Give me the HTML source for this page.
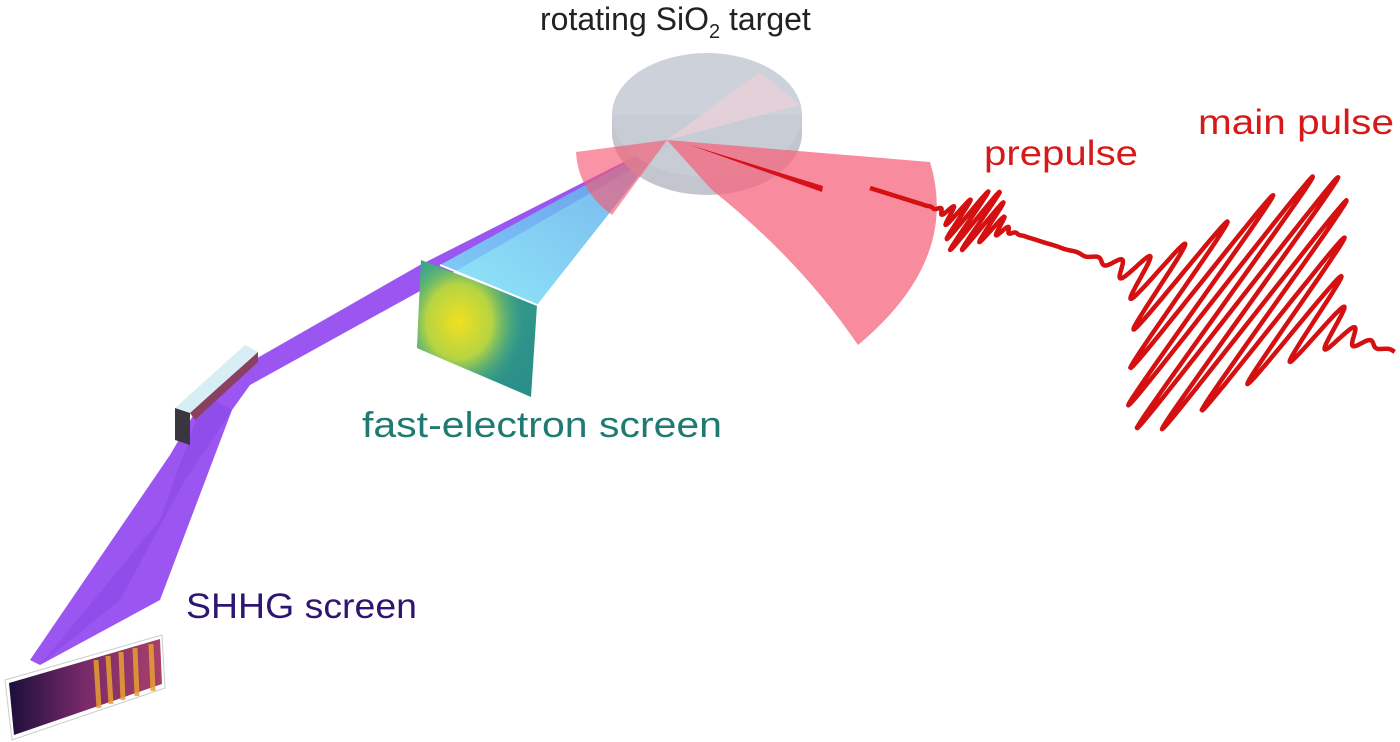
<!DOCTYPE html>
<html><head><meta charset="utf-8"><style>
html,body{margin:0;padding:0;background:#fff;}
svg{display:block;}
text{font-family:"Liberation Sans","DejaVu Sans",sans-serif;}
</style></head><body>
<svg width="1400" height="742" viewBox="0 0 1400 742">
<defs>
<linearGradient id="fesg" x1="0" y1="0" x2="1" y2="1">
<stop offset="0" stop-color="#3aa889"/><stop offset="1" stop-color="#2a8c8a"/></linearGradient>
<radialGradient id="fesr" cx="0.35" cy="0.45" r="0.55">
<stop offset="0" stop-color="#f2e01f"/><stop offset="0.5" stop-color="#b5d443"/><stop offset="1" stop-color="#3aa889" stop-opacity="0"/></radialGradient>
<linearGradient id="shhg" x1="0" y1="0" x2="1" y2="0">
<stop offset="0" stop-color="#1c0f3a"/><stop offset="0.5" stop-color="#7a2a6a"/><stop offset="1" stop-color="#a8406a"/></linearGradient>
<linearGradient id="cyan" x1="1" y1="0" x2="0" y2="1">
<stop offset="0" stop-color="#5aa0e8"/><stop offset="1" stop-color="#7ee4f8"/></linearGradient>
</defs>

<g>
<polygon points="667,140 672,146 440,280 250,385 232,410 160,600 40,665 30,660 170,455 205,395 245,365 420,265" fill="#9b55f0"/>
<polygon points="232,410 205,395 160,520 40,665 120,600 185,480" fill="#8a48e6" opacity="0.6"/>
</g>

<polygon points="667,140 440,265 537,305" fill="url(#cyan)" opacity="0.85"/>

<g>
<path d="M612,115 L612,133 A95,62 0 0 0 802,133 L802,115 Z" fill="#b8bcc6" opacity="0.85"/>
<ellipse cx="707" cy="115" rx="95" ry="62" fill="#c8ccd6" opacity="0.9"/>
<polygon points="667,140 760,72 800,105" fill="#eed0d8" opacity="0.7"/>
</g>

<path d="M667,140 L576,152 Q578,190 612,215 Z" fill="#f45a74" opacity="0.65"/>

<path d="M667,140 L930,162 Q960,260 858,345 Q800,260 712,190 Z" fill="#f5647c" opacity="0.75"/>
<polygon points="690,145 823,186 822,192" fill="#d8101a"/>

<g>
<polygon points="421,260 537,305 531,397 417,348" fill="url(#fesg)"/>
<polygon points="421,260 537,305 531,397 417,348" fill="url(#fesr)"/>
<line x1="440" y1="265" x2="537" y2="305" stroke="#fff" stroke-width="2"/>
</g>

<g>
<polygon points="175,408 245,345 258,352 190,413" fill="#d6eef4"/>
<polygon points="175,408 190,413 190,445 175,440" fill="#3a3640"/>
<polygon points="190,413 258,352 258,362 195,420" fill="#8a4060"/>
</g>

<g>
<polygon points="5,680 162,635 165,688 12,740" fill="#fff" stroke="#ccc"/>
<polygon points="9,683 160,639 162,684 14,735" fill="url(#shhg)"/>
<g stroke="#e8a030" stroke-width="5" opacity="0.85">
<line x1="96" y1="660" x2="99" y2="708"/><line x1="108" y1="656" x2="111" y2="704"/>
<line x1="121" y1="652" x2="123" y2="700"/><line x1="135" y1="648" x2="137" y2="696"/>
<line x1="151" y1="644" x2="153" y2="691"/>
</g>
</g>

<g id="pulses"></g>

<text x="540" y="30" font-size="32" fill="#222">rotating SiO<tspan font-size="20" dy="8">2</tspan><tspan dy="-8"> target</tspan></text>
<text x="984" y="165" font-size="35" fill="#d61a1a" textLength="154" lengthAdjust="spacingAndGlyphs">prepulse</text>
<text x="1198" y="134" font-size="35" fill="#d61a1a" textLength="196" lengthAdjust="spacingAndGlyphs">main pulse</text>
<text x="362" y="437" font-size="36" fill="#1f7a72" textLength="360" lengthAdjust="spacingAndGlyphs">fast-electron screen</text>
<text x="186" y="618" font-size="35" fill="#2e1670" textLength="231" lengthAdjust="spacingAndGlyphs">SHHG screen</text>
</svg>
<script>
const pulseCenters = [110, 385];
const pulseAmps = [38, 160];
const pulseWidths = [22, 72];
const pulseCycles = [10, 22];
(function(){
  const g = document.getElementById('pulses');
  const ox = 870, oy = 188, ang = Math.atan2(352-188, 1395-870);
  const ux = Math.cos(ang), uy = Math.sin(ang);
  const dx = 0.6, dy = -0.8;
  let d = '';
  const L = Math.hypot(1395-870, 352-188);
  for (let t = 0; t <= L; t += 0.6) {
    let y = 0;
    for (let i = 0; i < pulseCenters.length; i++) {
      const e = Math.exp(-Math.pow((t - pulseCenters[i]) / pulseWidths[i], 2));
      y += pulseAmps[i] * e * Math.sin((t - pulseCenters[i]) * 2 * Math.PI / pulseCycles[i]);
    }
    const x = ox + ux * t + dx * y, yy = oy + uy * t + dy * y;
    d += (t === 0 ? 'M' : 'L') + x.toFixed(1) + ',' + yy.toFixed(1);
  }
  const p = document.createElementNS('http://www.w3.org/2000/svg', 'path');
  p.setAttribute('d', d);
  p.setAttribute('fill', 'none');
  p.setAttribute('stroke', '#d41010');
  p.setAttribute('stroke-width', '4.5');
  p.setAttribute('stroke-linejoin', 'round');
  
  
  g.appendChild(p);
})();
</script>
</body></html>
